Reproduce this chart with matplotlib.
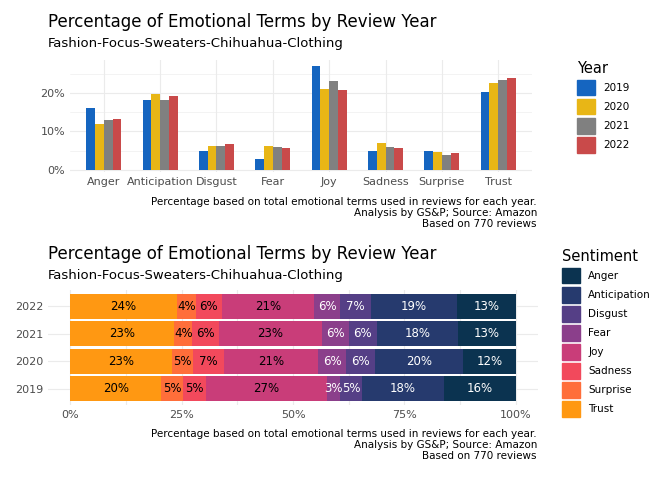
import matplotlib
matplotlib.use("Agg")
import matplotlib.pyplot as plt
import numpy as np
from matplotlib.patches import Patch

emotions = ["Anger","Anticipation","Disgust","Fear","Joy","Sadness","Surprise","Trust"]
years = ["2019","2020","2021","2022"]
vals = {
 "2019":[16.0,18.2,5.0,2.8,27.0,5.0,5.0,20.2],
 "2020":[11.8,19.7,6.3,6.3,21.0,7.0,4.7,22.6],
 "2021":[12.9,18.2,6.3,6.0,23.0,6.0,4.0,23.3],
 "2022":[13.2,19.2,6.8,5.8,20.7,5.8,4.3,23.8],
}
year_colors = ["#1565C0","#E8B616","#808080","#C94A4A"]
sent_colors = {"Anger":"#0B3350","Anticipation":"#263A6E","Disgust":"#553F86","Fear":"#8B3F8B",
               "Joy":"#C93D79","Sadness":"#F2495C","Surprise":"#FF6E3A","Trust":"#FF9812"}
dark = {"Anger","Anticipation","Disgust","Fear"}
caption = "Percentage based on total emotional terms used in reviews for each year.\nAnalysis by GS&P; Source: Amazon\nBased on 770 reviews"

fig = plt.figure(figsize=(6.72,4.8), dpi=100)
grid = "#EBEBEB"

# top chart
ax1 = fig.add_axes([70/672, 1-172/480, 462/672, 112/480])
x = np.arange(len(emotions))
w = 0.155
for i, y in enumerate(years):
    ax1.bar(x+(i-1.5)*w, vals[y], w, color=year_colors[i], label=y)
ax1.set_xticks(x); ax1.set_xticklabels(emotions)
ax1.set_xlim(-0.6, 7.6)
ax1.set_yticks([0,10,20]); ax1.set_yticklabels(["0%","10%","20%"])
ax1.set_ylim(-0.5, 28.5)
ax1.set_yticks([5,15,25], minor=True)
ax1.set_yticklabels([], minor=True)
for s in ax1.spines.values(): s.set_visible(False)
ax1.tick_params(which="both", length=0, labelsize=8, colors="#4D4D4D")
ax1.grid(True, which="major", color=grid, lw=0.8); ax1.set_axisbelow(True)
ax1.grid(True, which="minor", color=grid, lw=0.4)
fig.text(48/672, 1-22/480, "Percentage of Emotional Terms by Review Year", fontsize=12, va="center")
fig.text(48/672, 1-43/480, "Fashion-Focus-Sweaters-Chihuahua-Clothing", fontsize=9.5, va="center")
fig.text(537/672, 1-213/480, caption, fontsize=7.5, ha="right", va="center", linespacing=1.1)
h1 = [Patch(color=c) for c in year_colors]
fig.legend(h1, years, title="Year", loc="upper left", bbox_to_anchor=(568/672, 1-52/480),
           frameon=False, fontsize=7.5, title_fontsize=10.5, handlelength=1.7, handleheight=1.9,
           alignment="left", labelspacing=0.35)

# bottom chart
ax2 = fig.add_axes([48/672, 1-405/480, 490/672, 115/480])
order = ["Trust","Surprise","Sadness","Joy","Fear","Disgust","Anticipation","Anger"]
for j, y in enumerate(years):
    tot = sum(vals[y])
    left = 0
    for e in order:
        v = vals[y][emotions.index(e)]/tot*100
        ax2.barh(j, v, 0.9, left=left, color=sent_colors[e])
        ax2.text(left+v/2, j, f"{round(v)}%", ha="center", va="center", fontsize=8.5,
                 color="white" if e in dark else "black")
        left += v
ax2.set_yticks(range(4)); ax2.set_yticklabels(years)
ax2.set_xticks([0,25,50,75,100]); ax2.set_xticklabels(["0%","25%","50%","75%","100%"])
ax2.set_xlim(-5, 105); ax2.set_ylim(-0.6, 3.6)
ax2.set_xticks([12.5,37.5,62.5,87.5], minor=True)
ax2.set_xticklabels([], minor=True)
for s in ax2.spines.values(): s.set_visible(False)
ax2.tick_params(which="both", length=0, labelsize=8, colors="#4D4D4D")
ax2.grid(True, which="both", color=grid, lw=0.8); ax2.set_axisbelow(True)
fig.text(48/672, 1-254/480, "Percentage of Emotional Terms by Review Year", fontsize=12, va="center")
fig.text(48/672, 1-275/480, "Fashion-Focus-Sweaters-Chihuahua-Clothing", fontsize=9.5, va="center")
fig.text(537/672, 1-445/480, caption, fontsize=7.5, ha="right", va="center", linespacing=1.1)
h2 = [Patch(color=sent_colors[e]) for e in emotions]
fig.legend(h2, emotions, title="Sentiment", loc="upper left", bbox_to_anchor=(553/672, 1-240/480),
           frameon=False, fontsize=7.5, title_fontsize=10.5, handlelength=1.7, handleheight=1.9,
           alignment="left", labelspacing=0.35)

fig.savefig("out.png", dpi=100)
